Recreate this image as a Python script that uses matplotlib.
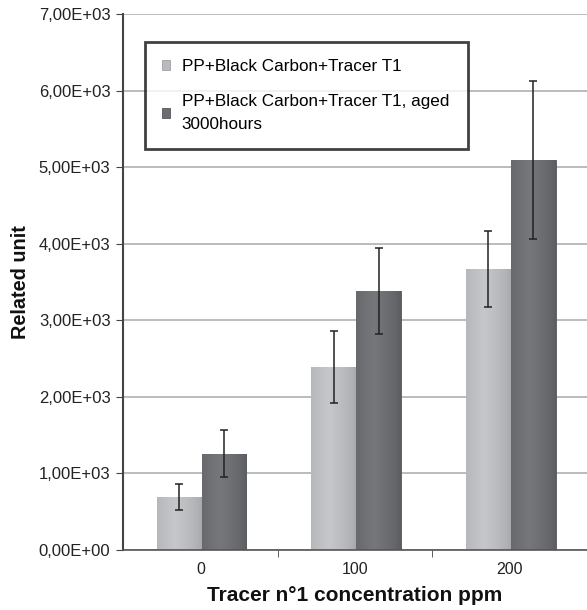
import numpy as np
import matplotlib
matplotlib.use("Agg")
import matplotlib.pyplot as plt
from matplotlib.ticker import FuncFormatter

plt.rcParams['font.family'] = ['Liberation Sans', 'DejaVu Sans']

categories = ["0", "100", "200"]
series_names = ["PP+Black Carbon+Tracer T1",
                "PP+Black Carbon+Tracer T1, aged\n3000hours"]
fresh = [690, 2390, 3670]
fresh_err = [170, 470, 500]
aged = [1260, 3380, 5090]
aged_err = [305, 560, 1030]

fig = plt.figure(figsize=(5.87, 6.10), dpi=100)
ax = fig.add_axes([0.2095, 0.0984, 0.7905, 0.8786])

x = np.arange(len(categories))
w = 0.29
off = 0.008

def grad_bars(bars, c_edge, c_mid):
    ce = np.array(matplotlib.colors.to_rgb(c_edge))
    cm = np.array(matplotlib.colors.to_rgb(c_mid))
    t = np.linspace(0, 1, 64)
    prof = 1 - np.abs(t - 0.4) / 0.6
    prof = np.clip(prof, 0, 1) ** 0.7
    img = ce[None, :] + (cm - ce)[None, :] * prof[:, None]
    img = img[None, :, :]
    for b in bars:
        x0, y0 = b.get_x(), b.get_y()
        bw, bh = b.get_width(), b.get_height()
        im = ax.imshow(img, extent=(x0, x0 + bw, y0, y0 + bh), aspect='auto',
                       zorder=2, interpolation='bicubic')
        im.set_clip_path(b)

b1 = ax.bar(x - w / 2 + off, fresh, w, color='#b9babd', zorder=2,
            edgecolor='#a0a1a4', linewidth=0.6, label=series_names[0])
b2 = ax.bar(x + w / 2 + off, aged, w, color='#6c6d71', zorder=2,
            edgecolor='#55565a', linewidth=0.6, label=series_names[1])
grad_bars(b1, '#a8a9ac', '#c6c7ca')
grad_bars(b2, '#5c5d61', '#76777b')

ax.errorbar(x - w / 2 + off, fresh, yerr=fresh_err, fmt='none', ecolor='#222222',
            elinewidth=1.1, capsize=2.6, capthick=1.1, zorder=4)
ax.errorbar(x + w / 2 + off, aged, yerr=aged_err, fmt='none', ecolor='#222222',
            elinewidth=1.1, capsize=2.6, capthick=1.1, zorder=4)

ax.set_xlim(-0.5, 2.5)
ax.set_ylim(0, 7000)
ax.set_yticks(np.arange(0, 7001, 1000))
ax.yaxis.set_major_formatter(FuncFormatter(
    lambda v, p: ("%.2E" % v).replace('.', ',')))
ax.set_xticks(x)
ax.set_xticklabels(categories)
ax.set_xticks([0.5, 1.5, 2.5], minor=True)
ax.tick_params(axis='x', which='major', length=0, labelsize=11.5, pad=9,
               labelcolor='#222222')
ax.tick_params(axis='x', which='minor', length=5, direction='out', color='#444444')
ax.tick_params(axis='y', length=5, direction='out', labelsize=12,
               color='#444444', labelcolor='#222222', pad=4)

ax.grid(axis='y', color='#b0b0b0', linewidth=1.2, zorder=0)
ax.set_axisbelow(True)
for s in ['top', 'right']:
    ax.spines[s].set_visible(False)
ax.spines['left'].set_color('#444444')
ax.spines['left'].set_linewidth(1.5)
ax.spines['bottom'].set_color('#555555')
ax.spines['bottom'].set_linewidth(1.2)

ax.set_xlabel("Tracer n°1 concentration ppm", fontsize=15, fontweight='bold',
              labelpad=6, color='#111111')
ax.set_ylabel("Related unit", fontsize=14.3, fontweight='bold', labelpad=6,
              color='#111111')

leg = ax.legend(handles=[b1, b2], labels=series_names, loc='upper left',
                bbox_to_anchor=(0.047, 0.948, 0.697, 0.0), mode='expand',
                fontsize=12.3, frameon=True, fancybox=False, borderpad=1.0,
                handlelength=0.5, handleheight=0.5, handletextpad=0.65,
                labelspacing=1.15, borderaxespad=0)
for t in leg.get_texts():
    t.set_linespacing(1.7)
leg.get_frame().set_edgecolor('#111111')
leg.get_frame().set_linewidth(2.0)
leg.set_zorder(5)

fig.savefig("out.png", dpi=100)
